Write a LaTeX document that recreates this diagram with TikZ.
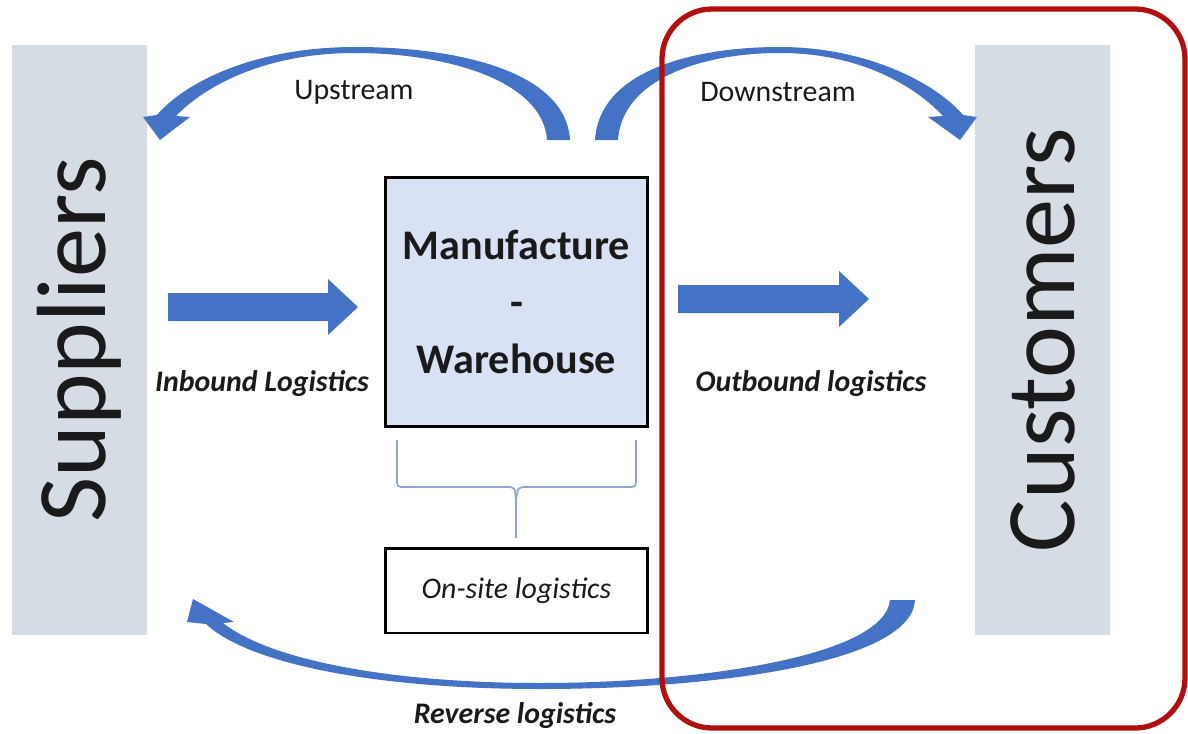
\documentclass[tikz,border=0pt]{standalone}
\usepackage{fontspec}
\setmainfont{Carlito}
\usepackage{tikz}
\usetikzlibrary{calc}
\definecolor{arrblue}{HTML}{4472C4}
\definecolor{bargray}{HTML}{D6DCE4}
\definecolor{boxblue}{HTML}{D9E1F4}
\definecolor{bracegray}{HTML}{8EA5CB}
\definecolor{framered}{HTML}{B0100E}
\definecolor{txtblack}{HTML}{1A1A1A}
% straight block arrow: x start, x tip, y
\newcommand{\blockarr}[3]{ \fill[arrblue] (#1,#3-14) -- (#2-30,#3-14) -- (#2-30,#3-28) -- (#2,#3) -- (#2-30,#3+28) -- (#2-30,#3+14) -- (#1,#3+14) -- cycle;}

\begin{document}
\begin{tikzpicture}[x=0.02cm, y=-0.02cm,
        bar/.style={fill=bargray, draw=none, inner sep=0pt, text=txtblack, font=\fontsize{56}{60}\selectfont},
        mbox/.style={fill=boxblue, draw=black, line width=1.7pt, inner sep=0pt, align=center, text=txtblack, font=\fontsize{24}{32.5}\selectfont\bfseries},
        obox/.style={fill=white, draw=black, line width=1.7pt, inner sep=0pt, text=txtblack, font=\fontsize{17}{20}\selectfont\itshape},
        smalltxt/.style={inner sep=0pt, text=txtblack, font=\fontsize{17}{20}\selectfont}]
        \useasboundingbox (0,0) rectangle (1188,734);

        % side bars
        \node[bar, rotate=90, minimum width=11.8cm, minimum height=2.7cm] (sup) at (79.5,340) {Suppliers};
        \node[bar, rotate=90, minimum width=11.8cm, minimum height=2.7cm] (cust) at (1042.5,340) {Customers};

        % middle boxes
        \node[mbox, minimum width=5.26cm, minimum height=5cm] (mfg) at (516.5,302) {Manufacture\\-\\Warehouse};
        \node[obox, minimum width=5.26cm, minimum height=1.7cm] (onsite) at (516.5,590.5) {On-site logistics};

        % brace
        \draw[bracegray, line width=1pt] (397,440) -- (397,478) .. controls (397,487) .. (406,487) -- (506,487) .. controls (515,487) .. (516,500) -- (516,538);
        \draw[bracegray, line width=1pt] (636,440) -- (636,478) .. controls (636,487) .. (627,487) -- (527,487) .. controls (518,487) .. (516,500);

        % straight arrows
        \blockarr{168}{358}{307}
        \blockarr{678}{869}{299}

        % upstream
        \fill[arrblue] (570,140) .. controls (566,72) and (460,47) .. (355,47) .. controls (255,47) and (185,82) .. (157,115) -- (143,117) -- (160,140) -- (190,117) -- (176,116) .. controls (205,86) and (265,53) .. (355,53) .. controls (445,53) and (543,80) .. (547,140) -- cycle;
        % downstream
        \fill[arrblue] (595,140) .. controls (599,72) and (690,47) .. (780,47) .. controls (865,47) and (935,82) .. (963,115) -- (977,117) -- (960,140) -- (928,117) -- (943,116) .. controls (915,86) and (860,53) .. (780,53) .. controls (700,53) and (622,80) .. (618,140) -- cycle;
        % reverse
        \fill[arrblue] (915,600) .. controls (912,662) and (720,689) .. (540,689) .. controls (380,689) and (250,665) .. (206,624) -- (187,622) -- (193,599) -- (234,622) -- (223,623) .. controls (270,660) and (390,683) .. (540,683) .. controls (700,683) and (885,656) .. (890,600) -- cycle;

        % labels
        \node[smalltxt] (up) at (354,92) {Upstream};
        \node[smalltxt] (down) at (778,92) {Downstream};
        \node[smalltxt, font=\fontsize{17}{20}\selectfont\bfseries\itshape] (inb) at (262,384) {Inbound Logistics};
        \node[smalltxt, font=\fontsize{17}{20}\selectfont\bfseries\itshape] (outb) at (811,384) {Outbound logistics};
        \node[smalltxt, font=\fontsize{17}{20}\selectfont\bfseries\itshape] (rev) at (515,716) {Reverse logistics};

        % highlight frame
        \draw[framered, line width=3pt, rounded corners=1cm] (662,9) rectangle (1185,728);

    \end{tikzpicture}
\end{document}
